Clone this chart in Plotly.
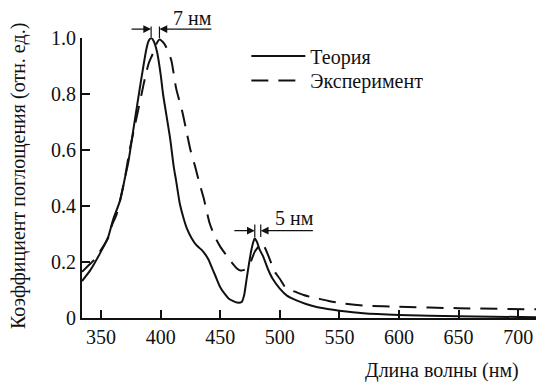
import numpy as np
import plotly.graph_objects as go

# ---- data ----
theory_nm = [334, 341, 349, 356, 360, 366, 370, 373, 377, 381, 384, 388, 390, 392, 394, 397,
             400, 402, 405, 408, 411, 413, 416, 419, 422, 426, 430, 434, 437, 440, 443, 446,
             450, 454, 457, 461, 464, 468, 470, 472, 474, 476, 478, 479, 481, 483, 486, 490,
             494, 500, 506, 514, 522, 530, 540, 550, 570, 600, 650, 715]
theory_val = [0.132, 0.171, 0.23, 0.29, 0.35, 0.42, 0.50, 0.56, 0.67, 0.78, 0.86, 0.96, 0.99, 1.0, 0.99, 0.95,
              0.87, 0.80, 0.72, 0.64, 0.54, 0.49, 0.41, 0.36, 0.32, 0.285, 0.26, 0.245, 0.23, 0.21, 0.18, 0.15,
              0.11, 0.085, 0.07, 0.06, 0.055, 0.057, 0.08, 0.135, 0.19, 0.24, 0.275, 0.285, 0.27, 0.245, 0.22, 0.175,
              0.14, 0.105, 0.08, 0.063, 0.05, 0.04, 0.032, 0.026, 0.017, 0.011, 0.006, 0.003]

exp_nm = [334, 340, 344, 349, 356, 359, 363, 367, 370, 374, 378, 381, 384, 387, 390, 393, 396, 399,
          403, 406, 409, 413, 418, 422, 425, 429, 432, 436, 441, 445, 450, 455, 458, 464, 467, 470,
          473, 476, 479, 482, 484, 487, 492, 495, 500, 505, 514, 520, 528, 540, 550, 572, 600, 650, 715]
exp_val = [0.165, 0.19, 0.207, 0.237, 0.286, 0.33, 0.37, 0.44, 0.50, 0.60, 0.68, 0.74, 0.80, 0.86, 0.91, 0.94, 0.975, 0.995,
           0.98, 0.955, 0.92, 0.82, 0.74, 0.66, 0.60, 0.54, 0.49, 0.43, 0.34, 0.295, 0.255, 0.225, 0.207, 0.177, 0.17, 0.172,
           0.18, 0.205, 0.237, 0.255, 0.267, 0.255, 0.205, 0.17, 0.14, 0.108, 0.092, 0.082, 0.073, 0.062, 0.054, 0.044, 0.040, 0.035, 0.031]

series_names = ["Теория", "Эксперимент"]
x_ticks = [350, 400, 450, 500, 550, 600, 650, 700]
y_ticks = [0, 0.2, 0.4, 0.6, 0.8, 1.0]
y_tick_text = ["0", "0.2", "0.4", "0.6", "0.8", "1.0"]
x_title = "Длина волны (нм)"
y_title = "Коэффициент поглощения (отн. ед.)"
shift_labels = ["7 нм", "5 нм"]

FONT = "Liberation Serif, Tinos, Times New Roman, serif"
BLACK = "#111111"
TXT = dict(family=FONT, size=20, color=BLACK)

fig = go.Figure()
fig.add_trace(go.Scatter(x=theory_nm, y=theory_val, mode="lines", name=series_names[0], legend="legend",
                         line=dict(color=BLACK, width=2, shape="spline", smoothing=0.6)))
fig.add_trace(go.Scatter(x=exp_nm, y=exp_val, mode="lines", name=series_names[1], legend="legend2",
                         line=dict(color=BLACK, width=2, dash="17px,10px", shape="spline", smoothing=0.6)))

# peak positions from the data
t_nm = np.array(theory_nm); t_v = np.array(theory_val)
e_nm = np.array(exp_nm); e_v = np.array(exp_val)
p1_t = t_nm[np.argmax(t_v)]
p1_e = e_nm[np.argmax(e_v)]
m_t = t_nm > 470
m_e = e_nm > 470
p2_t = t_nm[m_t][np.argmax(t_v[m_t])]
p2_e = e_nm[m_e][np.argmax(e_v[m_e])]

# y range is [0, 1] over the full plot height, so paper y equals data y here
def marker_group(pa, pb, y_lo, tick_px, y_arrow, left_tail, right_tail, label, label_x, label_y):
    anns = []
    for p in (pa, pb):
        anns.append(dict(x=p, y=y_lo, ax=0, ay=-tick_px, xref="x", yref="paper", axref="pixel", ayref="pixel",
                         text="", showarrow=True, arrowhead=0, arrowwidth=1.2, arrowcolor=BLACK))
    anns.append(dict(x=pa, y=y_arrow, ax=left_tail, ay=0, xref="x", yref="paper", axref="x", ayref="pixel",
                     text="", showarrow=True, arrowhead=2, arrowsize=1.3, arrowwidth=1.2, arrowcolor=BLACK))
    anns.append(dict(x=pb, y=y_arrow, ax=right_tail, ay=0, xref="x", yref="paper", axref="x", ayref="pixel",
                     text="", showarrow=True, arrowhead=2, arrowsize=1.3, arrowwidth=1.2, arrowcolor=BLACK))
    anns.append(dict(x=label_x, y=label_y, xref="x", yref="paper", text=label, showarrow=False,
                     xanchor="center", yanchor="middle", font=TXT))
    return anns

annotations = []
annotations += marker_group(p1_t, p1_e, 1.0, 13, 1.032, 374.3, 443.8, shift_labels[0], 427, 1.071)
annotations += marker_group(p2_t, p2_e, 0.289, 14, 0.312, 460.6, 529, shift_labels[1], 512.5, 0.357)
annotations.append(dict(x=702, y=-0.186, xref="x", yref="paper", text=x_title, showarrow=False,
                        xanchor="right", yanchor="middle", font=TXT))
annotations.append(dict(x=-0.141, y=0.507, xref="paper", yref="paper", text=y_title, showarrow=False,
                        textangle=-90, xanchor="center", yanchor="middle", font=TXT))

leg = dict(xanchor="left", yanchor="middle", bgcolor="rgba(0,0,0,0)", font=TXT, itemwidth=54,
           borderwidth=0)
fig.update_layout(
    width=536, height=382,
    margin=dict(l=82, r=0, t=38, b=64, autoexpand=False),
    paper_bgcolor="white", plot_bgcolor="white",
    font=TXT,
    showlegend=True,
    legend=dict(x=0.362, y=0.936, **leg),
    legend2=dict(x=0.362, y=0.848, **leg),
    annotations=annotations,
)
fig.update_xaxes(range=[334, 715], tickvals=x_ticks, ticks="inside", ticklen=8, tickwidth=1.5,
                 tickcolor=BLACK, showline=True, linecolor=BLACK, linewidth=2, showgrid=False,
                 zeroline=False, automargin=False, tickfont=TXT)
fig.update_yaxes(range=[0, 1.0], tickvals=y_ticks, ticktext=y_tick_text, ticks="inside", ticklen=8,
                 tickwidth=1.5, tickcolor=BLACK, showline=True, linecolor=BLACK, linewidth=2,
                 showgrid=False, zeroline=False, automargin=False, tickfont=TXT)

fig.write_html("out.html", config={"displayModeBar": False},
               post_script="document.body.style.margin='0';document.body.style.padding='0';")
